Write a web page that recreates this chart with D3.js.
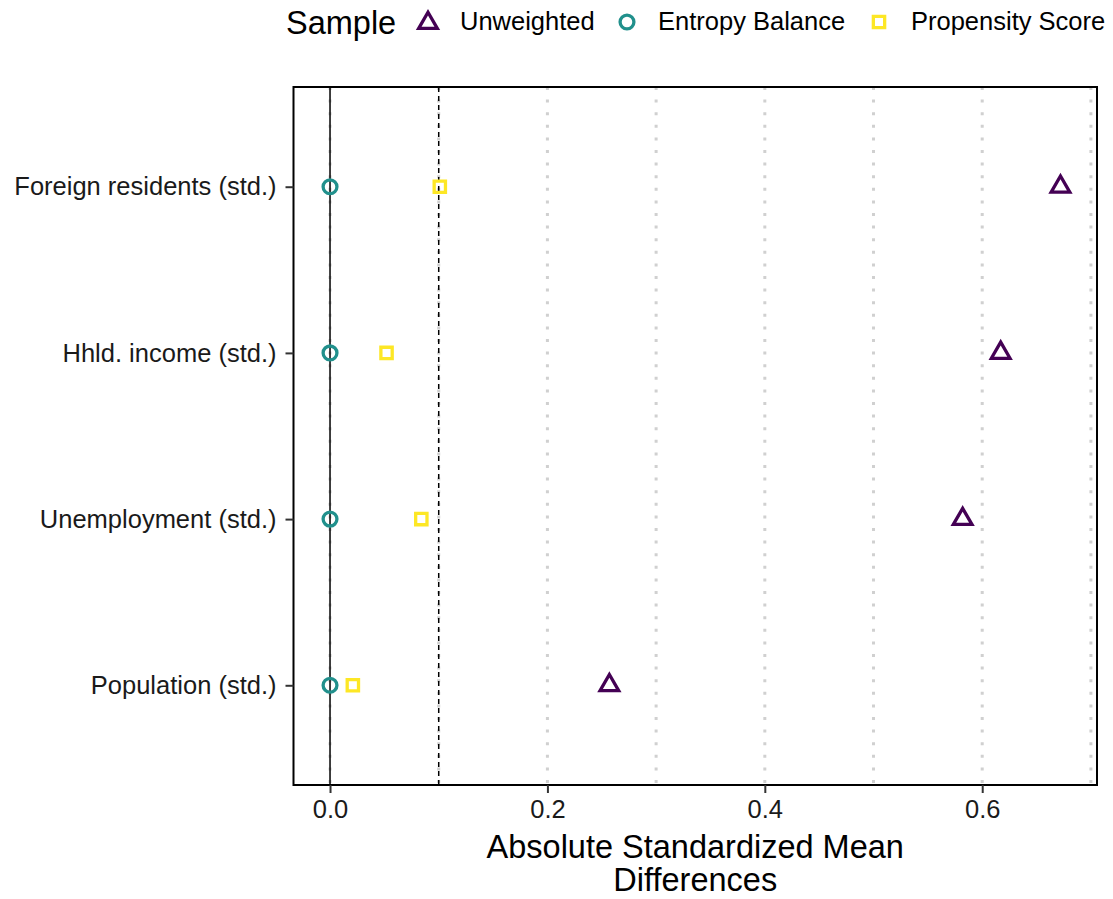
<!DOCTYPE html>
<html>
<head>
<meta charset="utf-8">
<script src="https://cdn.jsdelivr.net/npm/d3@7"></script>
<style>
  html, body { margin: 0; padding: 0; background: #fff; }
  svg { display: block; font-family: "Liberation Sans", Arial, sans-serif; }
</style>
</head>
<body>
<svg id="chart" width="1113" height="899"></svg>
<script>
// Covariates (top to bottom)
const covariates = ["Foreign residents (std.)", "Hhld. income (std.)", "Unemployment (std.)", "Population (std.)"];
// Sample series
const samples = ["Unweighted", "Entropy Balance", "Propensity Score"];
const sampleColors = ["#440154", "#21908C", "#FDE725"];
const sampleShapes = ["triangle", "circle", "square"];
// Absolute standardized mean differences per covariate
const unweighted = [0.672, 0.617, 0.582, 0.257];
const entropyBalance = [0.0, 0.0, 0.0, 0.0];
const propensityScore = [0.101, 0.052, 0.084, 0.021];
const xTicks = [0.0, 0.2, 0.4, 0.6];
const xGrid = [0.0, 0.1, 0.2, 0.3, 0.4, 0.5, 0.6, 0.7];
const threshold = 0.1;

const series = [unweighted, entropyBalance, propensityScore];

const svg = d3.select("#chart");
const panel = { left: 293.5, right: 1097, top: 87, bottom: 785 };
const labelFont = "25.5px";
const titleFont = "32.5px";

const allVals = series.flat();
const lo = d3.min(allVals), hi = d3.max(allVals);
const pad = (hi - lo) * 0.05;
const x = d3.scaleLinear().domain([lo - pad, hi + pad]).range([panel.left, panel.right]);
// First covariate at the top, 0.6 category units of padding at each end
const y = d3.scalePoint().domain(covariates).range([panel.top, panel.bottom]).padding(0.6);

// Dotted vertical grid
svg.append("g").selectAll("line").data(xGrid.filter(v => v >= x.domain()[0] && v <= x.domain()[1]))
  .join("line")
  .attr("x1", d => x(d)).attr("x2", d => x(d))
  .attr("y1", panel.top).attr("y2", panel.bottom)
  .attr("stroke", "#d0d0d0").attr("stroke-width", 3)
  .attr("stroke-dasharray", "3,9.6");

// Zero reference line
svg.append("line")
  .attr("x1", x(0)).attr("x2", x(0)).attr("y1", panel.top).attr("y2", panel.bottom)
  .attr("stroke", "#000").attr("stroke-width", 1.5);

// Balance threshold
svg.append("line")
  .attr("x1", x(threshold)).attr("x2", x(threshold)).attr("y1", panel.top).attr("y2", panel.bottom)
  .attr("stroke", "#000").attr("stroke-width", 1.5).attr("stroke-dasharray", "5,4");

// Markers
const symbolType = { triangle: d3.symbolTriangle, circle: d3.symbolCircle, square: d3.symbolSquare };
const markerSize = { triangle: 150, circle: 150, square: 128 };
const pts = [];
series.forEach((vals, si) => vals.forEach((v, ci) => pts.push({ v, c: covariates[ci], si })));
svg.append("g").selectAll("path").data(pts).join("path")
  .attr("d", d => d3.symbol().type(symbolType[sampleShapes[d.si]]).size(markerSize[sampleShapes[d.si]])())
  .attr("transform", d => `translate(${x(d.v)},${y(d.c)})`)
  .attr("fill", "none")
  .attr("stroke", d => sampleColors[d.si])
  .attr("stroke-width", 3.3);

// Panel border
svg.append("rect")
  .attr("x", panel.left).attr("y", panel.top)
  .attr("width", panel.right - panel.left).attr("height", panel.bottom - panel.top)
  .attr("fill", "none").attr("stroke", "#000").attr("stroke-width", 2);

// X axis
const xAxis = svg.append("g").attr("transform", `translate(0,${panel.bottom})`)
  .call(d3.axisBottom(x).tickValues(xTicks).tickFormat(d3.format(".1f")).tickSize(8).tickPadding(5));
xAxis.select(".domain").remove();
xAxis.selectAll(".tick line").attr("stroke", "#333").attr("stroke-width", 2);
xAxis.selectAll(".tick text").attr("fill", "#1a1a1a").style("font-size", labelFont)
  .style("font-family", "Liberation Sans, Arial, sans-serif").attr("dy", "0.8em");

// Y axis
const yAxis = svg.append("g").attr("transform", `translate(${panel.left},0)`)
  .call(d3.axisLeft(y).tickSize(8).tickPadding(9));
yAxis.select(".domain").remove();
yAxis.selectAll(".tick line").attr("stroke", "#333").attr("stroke-width", 2);
yAxis.selectAll(".tick text").attr("fill", "#1a1a1a").style("font-size", labelFont)
  .style("font-family", "Liberation Sans, Arial, sans-serif");

// X axis title
const titleX = (panel.left + panel.right) / 2;
svg.append("text").attr("x", titleX).attr("y", 858).attr("text-anchor", "middle")
  .style("font-size", titleFont).attr("fill", "#000").text("Absolute Standardized Mean");
svg.append("text").attr("x", titleX).attr("y", 891).attr("text-anchor", "middle")
  .style("font-size", titleFont).attr("fill", "#000").text("Differences");

// Legend
const legend = svg.append("g");
legend.append("text").attr("x", 286).attr("y", 34).style("font-size", titleFont).attr("fill", "#000").text("Sample");
const legendKeyX = [428, 627, 879];
const legendLabelX = [460, 658, 911];
samples.forEach((s, i) => {
  const shape = sampleShapes[i];
  legend.append("path")
    .attr("d", d3.symbol().type(symbolType[shape]).size(markerSize[shape])())
    .attr("transform", `translate(${legendKeyX[i]},${shape === "triangle" ? 23 : 22})`)
    .attr("fill", "none").attr("stroke", sampleColors[i]).attr("stroke-width", 3.3);
  legend.append("text").attr("x", legendLabelX[i]).attr("y", 30)
    .style("font-size", labelFont).attr("fill", "#000").text(s);
});
</script>
</body>
</html>
